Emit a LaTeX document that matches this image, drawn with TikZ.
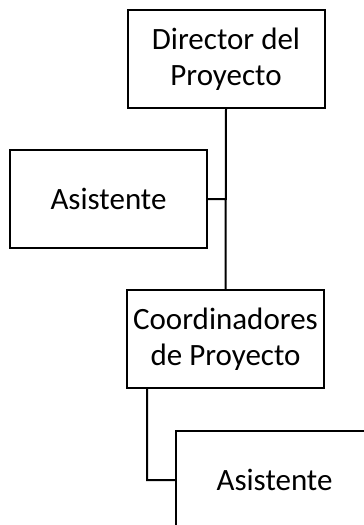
\documentclass[tikz,border=0pt]{standalone}
\usepackage{fontspec}
\setmainfont{Carlito}
\usetikzlibrary{positioning}

\begin{document}
\begin{tikzpicture}[x=1pt, y=-1pt, line width=2pt,
	box/.style={draw=black, rectangle, minimum width=197pt, minimum height=98pt, inner sep=2pt, align=center, font=\fontsize{31}{36}\selectfont}]
	\useasboundingbox (0, 0) rectangle (364, 525);
	\clip (0, 0) rectangle (364, 525);
	\node[box] (dir) at (226, 59) {Director del\\Proyecto};
	\node[box] (asis1) at (108.5, 199) {Asistente};
	\node[box] (coord) at (225.5, 339) {Coordinadores\\de Proyecto};
	\node[box] (asis2) at (274.5, 480) {Asistente};
	\coordinate (k) at (147, 480);
	\draw
	(dir.south) -- (coord.north)
	(asis1.east) -- (asis1.east -| dir.south)
	(coord.south -| k) |- (asis2.west)
	;
\end{tikzpicture}
\end{document}
